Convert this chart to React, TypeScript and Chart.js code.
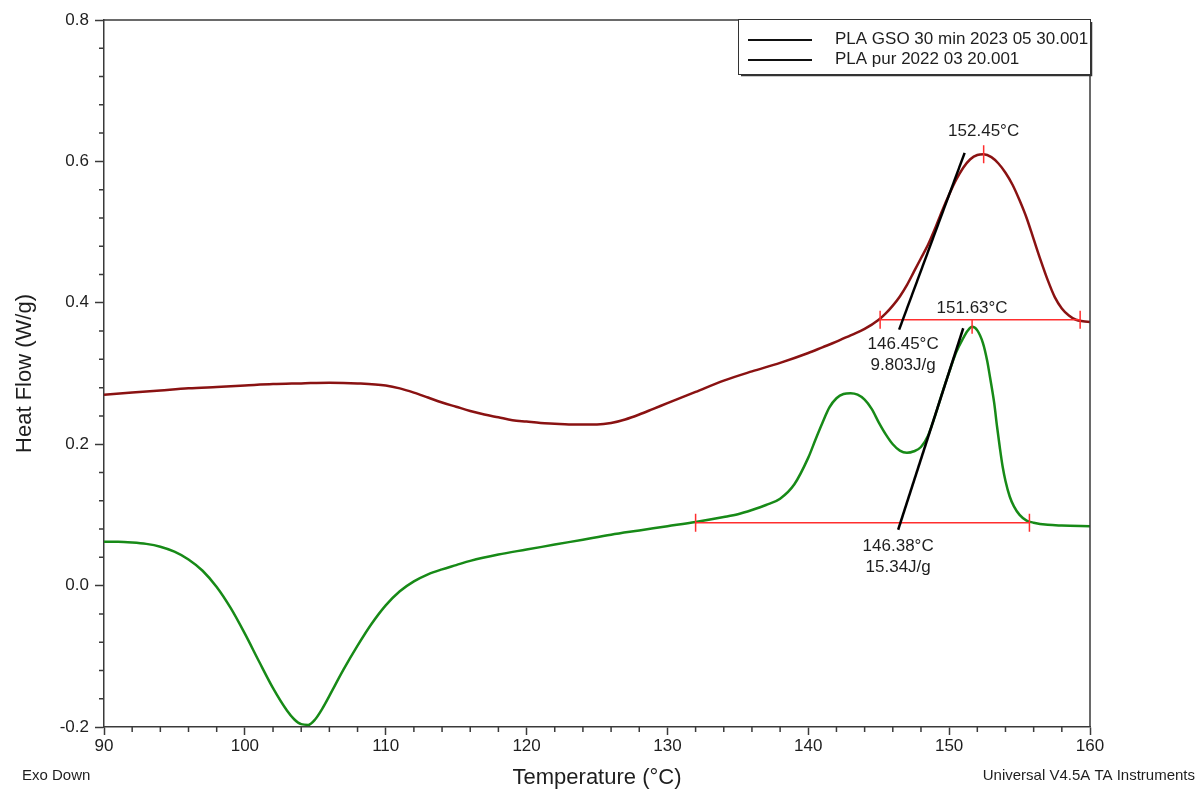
import React, { useEffect, useRef } from 'react';
import { Chart, registerables } from 'chart.js';

Chart.register(...registerables);

// ---------- Data ----------
const SERIES_LABELS = ['PLA GSO 30 min 2023 05 30.001', 'PLA pur 2022 03 20.001'];

// PLA GSO 30 min (dark red curve)
const gsoTemp = [
  90, 92, 94, 96, 98, 100, 102, 104, 106, 108, 110, 111, 112, 113, 114, 115, 116, 117, 118, 119,
  120, 121, 122, 123, 124, 125, 126, 127, 128, 129, 130, 132, 134, 136, 138, 140, 141, 142, 143, 144,
  145, 145.5, 146, 146.5, 147, 147.5, 148, 148.5, 149, 149.5, 150, 150.5, 151, 151.5, 152, 152.45,
  153, 153.5, 154, 154.5, 155, 155.5, 156, 156.5, 157, 157.5, 158, 158.5, 159, 159.5, 160,
];
const gsoFlow = [
  0.270, 0.273, 0.276, 0.279, 0.281, 0.283, 0.285, 0.286, 0.287, 0.286, 0.283, 0.279, 0.273, 0.266, 0.259, 0.253, 0.247, 0.242, 0.238, 0.234,
  0.232, 0.230, 0.229, 0.228, 0.228, 0.228, 0.230, 0.235, 0.242, 0.250, 0.258, 0.274, 0.290, 0.303, 0.315, 0.329, 0.337, 0.345, 0.354, 0.363,
  0.376, 0.385, 0.396, 0.409, 0.425, 0.444, 0.463, 0.482, 0.505, 0.530, 0.553, 0.574, 0.591, 0.603, 0.609, 0.610,
  0.606, 0.597, 0.584, 0.567, 0.545, 0.520, 0.490, 0.460, 0.432, 0.408, 0.392, 0.382, 0.376, 0.374, 0.373,
];

// PLA pur (green curve)
const purTemp = [
  90, 91, 92, 93, 94, 95, 96, 97, 98, 99, 100, 101, 102, 103, 103.5, 104, 104.5, 105, 105.5, 106,
  107, 108, 109, 110, 111, 112, 113, 114, 115, 116, 118, 120, 122, 124, 126, 128, 130, 132, 134, 135,
  136, 137, 138, 139, 140, 140.5, 141, 141.5, 142, 142.5, 143, 143.5, 144, 144.5, 145, 145.5, 146, 146.5,
  147, 147.5, 148, 148.5, 149, 149.5, 150, 150.5, 151, 151.3, 151.63, 152, 152.4, 152.7, 152.9, 153.2,
  153.4, 153.6, 153.8, 154, 154.3, 154.6, 155, 155.5, 156, 157, 158, 160,
];
const purFlow = [
  0.062, 0.062, 0.061, 0.059, 0.055, 0.048, 0.037, 0.021, -0.002, -0.032, -0.068, -0.107, -0.145, -0.177, -0.189, -0.196, -0.197, -0.189, -0.174, -0.156,
  -0.119, -0.085, -0.054, -0.028, -0.008, 0.006, 0.016, 0.023, 0.029, 0.035, 0.044, 0.051, 0.058, 0.065, 0.072, 0.078, 0.084, 0.090, 0.097, 0.101,
  0.107, 0.114, 0.123, 0.143, 0.181, 0.206, 0.230, 0.252, 0.265, 0.271, 0.272, 0.270, 0.263, 0.250, 0.231, 0.214, 0.200, 0.191,
  0.188, 0.190, 0.196, 0.212, 0.240, 0.272, 0.302, 0.330, 0.350, 0.360, 0.366, 0.361, 0.343, 0.318, 0.295, 0.258,
  0.225, 0.195, 0.168, 0.148, 0.126, 0.112, 0.100, 0.092, 0.089, 0.086, 0.085, 0.084,
];

// Axis ticks
const X_TICKS = [90, 100, 110, 120, 130, 140, 150, 160];
const Y_TICKS = [-0.2, 0.0, 0.2, 0.4, 0.6, 0.8];

// Peak analysis (PLA GSO)
const gsoBaseTemp = [145.1, 159.3];
const gsoBaseFlow = [0.376, 0.376];
const gsoTanTemp = [146.45, 151.1];
const gsoTanFlow = [0.362, 0.612];
const gsoPeakTemp = [152.45];
const gsoPeakFlow = [0.610];
const gsoOnset = [146.45];
const gsoEnthalpy = [9.803];

// Peak analysis (PLA pur)
const purBaseTemp = [132.0, 155.7];
const purBaseFlow = [0.089, 0.089];
const purTanTemp = [146.38, 151.0];
const purTanFlow = [0.079, 0.364];
const purPeakTemp = [151.63];
const purPeakFlow = [0.366];
const purOnset = [146.38];
const purEnthalpy = [15.34];

// ---------- Styling ----------
const FONT = '"Liberation Sans", Arial, sans-serif';
const AXIS_COLOR = '#3a3a3a';
const TEXT_COLOR = '#1e1e1e';
const GSO_COLOR = '#8a1212';
const PUR_COLOR = '#178a17';
const ANNOT_RED = '#ff2e2e';

const pts = (xs: number[], ys: number[]) => xs.map((x, i) => ({ x, y: ys[i] }));

const decorPlugin = {
  id: 'decor',
  afterDraw(chart: any) {
    const { ctx, chartArea: a, scales } = chart;
    const x = scales.x;
    const y = scales.y;
    ctx.save();

    // frame: top and right
    ctx.strokeStyle = AXIS_COLOR;
    ctx.lineWidth = 1.5;
    ctx.beginPath();
    ctx.moveTo(a.left, a.top);
    ctx.lineTo(a.right, a.top);
    ctx.lineTo(a.right, a.bottom);
    ctx.stroke();

    // minor ticks
    ctx.lineWidth = 1.5;
    ctx.beginPath();
    for (let i = 0; i <= 35; i++) {
      if (i % 5 === 0) continue;
      const px = x.getPixelForValue(90 + i * 2);
      ctx.moveTo(px, a.bottom);
      ctx.lineTo(px, a.bottom + 5);
    }
    for (let i = 0; i <= 25; i++) {
      if (i % 5 === 0) continue;
      const py = y.getPixelForValue(-0.2 + i * 0.04);
      ctx.moveTo(a.left, py);
      ctx.lineTo(a.left - 5, py);
    }
    ctx.stroke();

    // red analysis tick marks
    ctx.strokeStyle = ANNOT_RED;
    ctx.lineWidth = 1.5;
    const vtick = (t: number, f: number, h: number) => {
      const px = x.getPixelForValue(t);
      const py = y.getPixelForValue(f);
      ctx.moveTo(px, py - h);
      ctx.lineTo(px, py + h);
    };
    ctx.beginPath();
    gsoBaseTemp.forEach((t, i) => vtick(t, gsoBaseFlow[i], 9));
    purBaseTemp.forEach((t, i) => vtick(t, purBaseFlow[i], 9));
    vtick(gsoPeakTemp[0], gsoPeakFlow[0], 9);
    vtick(purPeakTemp[0], purPeakFlow[0], 7);
    ctx.stroke();

    // analysis text
    ctx.fillStyle = TEXT_COLOR;
    ctx.font = `17px ${FONT}`;
    ctx.textAlign = 'center';
    ctx.textBaseline = 'middle';
    ctx.fillText(`${gsoPeakTemp[0].toFixed(2)}°C`, x.getPixelForValue(gsoPeakTemp[0]), y.getPixelForValue(gsoPeakFlow[0]) - 23);
    ctx.fillText(`${purPeakTemp[0].toFixed(2)}°C`, x.getPixelForValue(purPeakTemp[0]), y.getPixelForValue(gsoBaseFlow[0]) - 11);
    const gx = x.getPixelForValue(gsoOnset[0]) + 4;
    const gy = y.getPixelForValue(gsoBaseFlow[0]);
    ctx.fillText(`${gsoOnset[0].toFixed(2)}°C`, gx, gy + 25);
    ctx.fillText(`${gsoEnthalpy[0].toFixed(3)}J/g`, gx, gy + 46);
    const px2 = x.getPixelForValue(purOnset[0]);
    const py2 = y.getPixelForValue(purBaseFlow[0]);
    ctx.fillText(`${purOnset[0].toFixed(2)}°C`, px2, py2 + 24);
    ctx.fillText(`${purEnthalpy[0].toFixed(2)}J/g`, px2, py2 + 45);

    // legend box
    const lx = a.right - 352;
    const ly = a.top - 1;
    const lw = 352;
    const lh = 55;
    ctx.fillStyle = '#ffffff';
    ctx.fillRect(lx, ly, lw, lh);
    ctx.strokeStyle = '#333333';
    ctx.lineWidth = 1;
    ctx.strokeRect(lx + 0.5, ly + 0.5, lw, lh);
    ctx.lineWidth = 1.5;
    ctx.beginPath();
    ctx.moveTo(lx + 3, ly + lh + 1.5);
    ctx.lineTo(lx + lw + 1.5, ly + lh + 1.5);
    ctx.lineTo(lx + lw + 1.5, ly + 3);
    ctx.stroke();
    const legendSets = chart.data.datasets.filter((ds: any) => SERIES_LABELS.includes(ds.label));
    legendSets.forEach((ds: any, i: number) => {
      const yy = ly + 21 + i * 20;
      ctx.strokeStyle = '#111111';
      ctx.lineWidth = 2;
      ctx.beginPath();
      ctx.moveTo(lx + 10, yy);
      ctx.lineTo(lx + 74, yy);
      ctx.stroke();
      ctx.fillStyle = TEXT_COLOR;
      ctx.font = `17px ${FONT}`;
      ctx.textAlign = 'left';
      ctx.textBaseline = 'middle';
      ctx.fillText(ds.label, lx + 97, yy - 1);
    });

    // footer texts
    ctx.fillStyle = TEXT_COLOR;
    ctx.font = `15px ${FONT}`;
    ctx.textBaseline = 'middle';
    ctx.textAlign = 'left';
    ctx.fillText('Exo Down', 22, 776);
    ctx.textAlign = 'right';
    ctx.fillText('Universal V4.5A TA Instruments', 1195, 776);

    ctx.restore();
  },
};

export default function App() {
  const canvasRef = useRef<HTMLCanvasElement | null>(null);

  useEffect(() => {
    if (!canvasRef.current) return;
    Chart.defaults.font.family = FONT;
    Chart.defaults.color = TEXT_COLOR;

    const lineDs = (label: string, xs: number[], ys: number[], color: string, width: number, smooth: boolean) => ({
      label,
      data: pts(xs, ys),
      borderColor: color,
      backgroundColor: color,
      borderWidth: width,
      pointRadius: 0,
      showLine: true,
      fill: false,
      cubicInterpolationMode: smooth ? 'monotone' : 'default',
      tension: 0,
    });

    const chart = new Chart(canvasRef.current, {
      type: 'scatter',
      data: {
        datasets: [
          lineDs('GSO tangent', gsoTanTemp, gsoTanFlow, '#000000', 2.5, false),
          lineDs('pur tangent', purTanTemp, purTanFlow, '#000000', 2.5, false),
          lineDs('GSO baseline', gsoBaseTemp, gsoBaseFlow, ANNOT_RED, 1.5, false),
          lineDs('pur baseline', purBaseTemp, purBaseFlow, ANNOT_RED, 1.5, false),
          lineDs(SERIES_LABELS[0], gsoTemp, gsoFlow, GSO_COLOR, 2.5, true),
          lineDs(SERIES_LABELS[1], purTemp, purFlow, PUR_COLOR, 2.5, true),
        ] as any,
      },
      options: {
        animation: false,
        responsive: false,
        events: [],
        layout: { padding: { left: 0, right: 109, top: 20, bottom: 0 } },
        plugins: { legend: { display: false }, tooltip: { enabled: false } },
        scales: {
          x: {
            type: 'linear',
            min: 90,
            max: 160,
            afterBuildTicks: (s: any) => { s.ticks = X_TICKS.map((v) => ({ value: v })); },
            afterFit: (s: any) => { s.height = 66; },
            ticks: { font: { size: 17, family: FONT }, color: TEXT_COLOR, padding: 1, maxRotation: 0, callback: (v: any) => String(v) },
            grid: { drawOnChartArea: false, drawTicks: true, tickLength: 8, tickColor: AXIS_COLOR, tickWidth: 1.5 },
            border: { display: true, color: AXIS_COLOR, width: 1.5 },
            title: { display: true, text: 'Temperature (°C)', font: { size: 22, family: FONT }, color: TEXT_COLOR, padding: { top: 0, bottom: 2 } },
          },
          y: {
            type: 'linear',
            min: -0.2,
            max: 0.8,
            afterBuildTicks: (s: any) => { s.ticks = Y_TICKS.map((v) => ({ value: v })); },
            afterFit: (s: any) => { s.width = 104; },
            ticks: { font: { size: 17, family: FONT }, color: TEXT_COLOR, padding: 6, callback: (v: any) => Number(v).toFixed(1) },
            grid: { drawOnChartArea: false, drawTicks: true, tickLength: 9, tickColor: AXIS_COLOR, tickWidth: 1.5 },
            border: { display: true, color: AXIS_COLOR, width: 1.5 },
            title: { display: true, text: 'Heat Flow (W/g)', font: { size: 22, family: FONT }, color: TEXT_COLOR, padding: { top: 12, bottom: 0 } },
          },
        },
      } as any,
      plugins: [decorPlugin],
    });

    return () => chart.destroy();
  }, []);

  return (
    <div style={{ position: 'fixed', left: 0, top: 0, width: 1199, height: 793, background: '#ffffff' }}>
      <canvas ref={canvasRef} width={1199} height={793} style={{ display: 'block' }} />
    </div>
  );
}
